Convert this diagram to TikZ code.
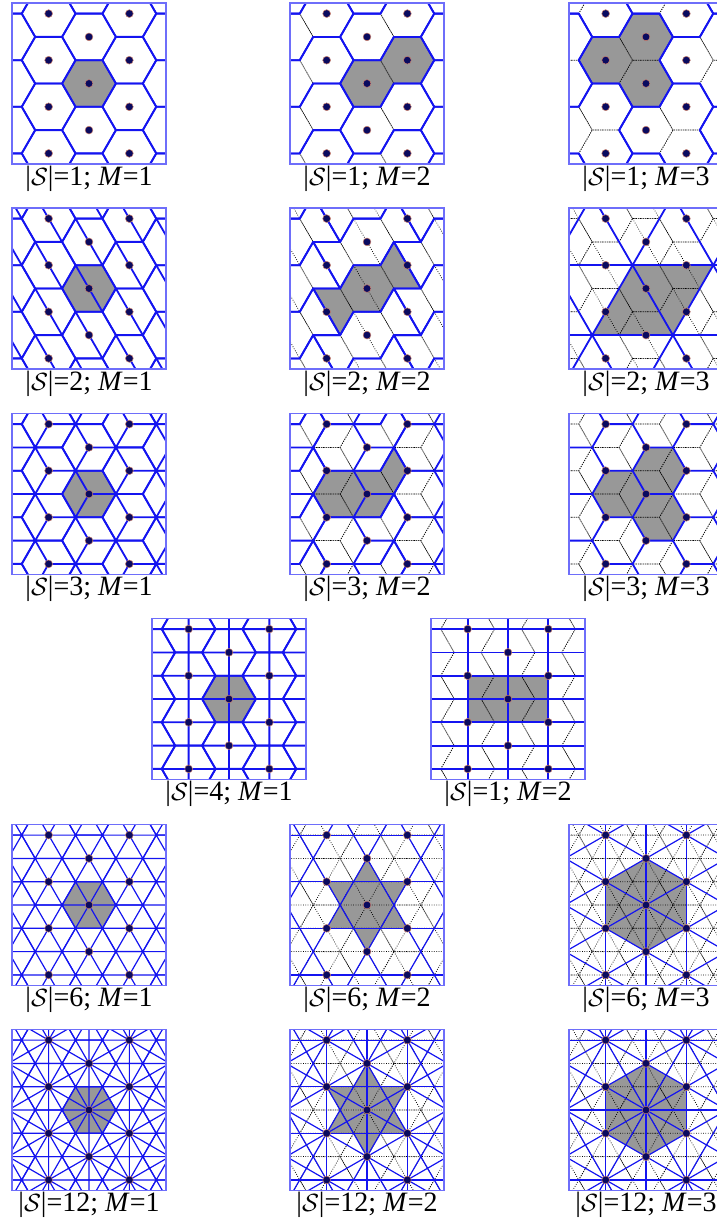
\documentclass[tikz,border=0pt]{standalone}
\usepackage{fontspec}
\setmainfont{Liberation Serif}
\usetikzlibrary{calc}

\definecolor{edgeblue}{RGB}{20,20,240}
\definecolor{frameblue}{RGB}{110,110,250}
\definecolor{cellgray}{RGB}{152,152,152}
\definecolor{sitenavy}{RGB}{10,10,95}
\definecolor{siterim}{RGB}{205,130,110}

\def\ha{0.866}
\def\hr{0.577}

\tikzset{
  coarse/.style={draw=edgeblue, line width=1.8pt, line join=round},
  thincoarse/.style={draw=edgeblue, line width=1.2pt, line join=round},
  fine/.style={draw=black, line width=0.75pt, dash pattern=on 0.75pt off 1.6pt},
  shade/.style={fill=cellgray},
  panelframe/.style={draw=frameblue, line width=1.5pt},
  sitedot/.style={fill=sitenavy, draw=siterim, line width=0.5pt},
  caption/.style={anchor=north, inner sep=0pt, font=\fontsize{28}{30}\selectfont}
}

% hexagonal cells (with their cuts) round every site
\newcommand{\cellgrid}[2]{%
  \foreach \i in {-2,...,2}{\foreach \j in {-4,...,4}{%
    \draw[#1,shift={(\ha*\i,0.5*\i+\j)}] (0:\hr)--(60:\hr)--(120:\hr)--(180:\hr)--(240:\hr)--(300:\hr)--cycle #2;}}}
% the three spokes of every site
\newcommand{\spokegrid}[1]{%
  \foreach \i in {-2,...,2}{\foreach \j in {-4,...,4}{%
    \draw[#1,shift={(\ha*\i,0.5*\i+\j)}] (0,0)--(0:\hr) (0,0)--(120:\hr) (0,0)--(240:\hr);}}}
% translated copies of one coarse cell
\newcommand{\tilecopies}[2]{%
  \foreach \p in {-4,...,4}{\foreach \q in {-2,...,2}{%
    \draw[coarse,shift={#1}] #2;}}}
% three families of parallel lines (0, 60, 120 degrees): style, spacing, offsets
\newcommand{\trilines}[5]{%
  \foreach \k in {-4,...,4}{%
    \draw[#1] (-3,{#3+#2*\k}) -- (3,{#3+#2*\k});
    \draw[#1] ({(#4+#2*\k)/0.866-1.5},-2.598) -- ({(#4+#2*\k)/0.866+1.5},2.598);
    \draw[#1] ({(#5+#2*\k)/0.866+1.5},-2.598) -- ({(#5+#2*\k)/0.866-1.5},2.598);}}
% lines joining neighbouring sites (90, 30, 150 degrees)
\newcommand{\siteline}[1]{%
  \foreach \k in {-3,...,3}{%
    \draw[#1] ({0.866*\k},-3) -- ({0.866*\k},3);
    \draw[#1] (-2.2,{-1.27+\k}) -- (2.2,{1.27+\k});
    \draw[#1] (-2.2,{1.27+\k}) -- (2.2,{-1.27+\k});}}
\newcommand{\sites}{%
  \foreach \i in {-2,...,2}{\foreach \j in {-4,...,4}{%
    \path[sitedot] (\ha*\i,0.5*\i+\j) circle (3.9pt);}}}
\newcommand{\symlab}[2]{\textbar$\mathcal{S}$\textbar=#1; \textit{M}=#2}

\newenvironment{cellpanel}[4]{%
  \begin{scope}[shift={(#1pt,-#2pt)},x=46.6pt,y=46.6pt]
  \def\panelname{#3}\def\paneltext{#4}%
  \begin{scope}
  \clip (-77pt,-80.5pt) rectangle (77pt,80.5pt);}{%
  \end{scope}
  \draw[panelframe] (-77pt,-80.5pt) rectangle (77pt,80.5pt);
  \node[caption] (\panelname) at (0,-82pt) {\paneltext};
  \end{scope}}

\begin{document}
\begin{tikzpicture}
\useasboundingbox (0,0) rectangle (717pt,-1219pt);

% |S|=1
\begin{cellpanel}{89}{83.5}{lblA1}{\symlab{1}{1}}
  \fill[shade] (0:\hr)--(60:\hr)--(120:\hr)--(180:\hr)--(240:\hr)--(300:\hr)--cycle;
  \cellgrid{coarse}{}
  \sites
\end{cellpanel}
\begin{cellpanel}{367}{83.5}{lblA2}{\symlab{1}{2}}
  \fill[shade] (-0.577,0)--(-0.289,-0.5)--(0.289,-0.5)--(0.577,0)--(1.155,0)--(1.443,0.5)--(1.155,1)--(0.577,1)--(0.289,0.5)--(-0.289,0.5)--cycle;
  \cellgrid{fine}{}
  \tilecopies{(1.732*\q,\p+\q)}{(-0.577,0)--(-0.289,-0.5)--(0.289,-0.5)--(0.577,0)--(1.155,0)--(1.443,0.5)--(1.155,1)--(0.577,1)--(0.289,0.5)--(-0.289,0.5)--cycle}
  \sites
\end{cellpanel}
\begin{cellpanel}{646}{83.5}{lblA3}{\symlab{1}{3}}
  \fill[shade] (0.577,0)--(0.289,0.5)--(0.577,1)--(0.289,1.5)--(-0.289,1.5)--(-0.577,1)--(-1.155,1)--(-1.443,0.5)--(-1.155,0)--(-0.577,0)--(-0.289,-0.5)--(0.289,-0.5)--cycle;
  \cellgrid{fine}{}
  \tilecopies{(1.732*\q+0.866*\p,1.5*\p)}{(0.577,0)--(0.289,0.5)--(0.577,1)--(0.289,1.5)--(-0.289,1.5)--(-0.577,1)--(-1.155,1)--(-1.443,0.5)--(-1.155,0)--(-0.577,0)--(-0.289,-0.5)--(0.289,-0.5)--cycle}
  \sites
\end{cellpanel}

% |S|=2
\begin{cellpanel}{89}{288.5}{lblB1}{\symlab{2}{1}}
  \fill[shade] (0:\hr)--(60:\hr)--(120:\hr)--(180:\hr)--(240:\hr)--(300:\hr)--cycle;
  \cellgrid{coarse}{(120:\hr)--(300:\hr)}
  \sites
\end{cellpanel}
\begin{cellpanel}{367}{288.5}{lblB2}{\symlab{2}{2}}
  \fill[shade] (-1.155,0)--(-0.577,0)--(-0.289,0.5)--(0.289,0.5)--(0.577,1)--(1.155,0)--(0.577,0)--(0.289,-0.5)--(-0.289,-0.5)--(-0.577,-1)--cycle;
  \cellgrid{fine}{(120:\hr)--(300:\hr)}
  \tilecopies{(1.732*\q,\p+\q)}{(-1.155,0)--(-0.577,0)--(-0.289,0.5)--(0.289,0.5)--(0.577,1)--(1.155,0)--(0.577,0)--(0.289,-0.5)--(-0.289,-0.5)--(-0.577,-1)--cycle}
  \sites
\end{cellpanel}
\begin{cellpanel}{646}{288.5}{lblB3}{\symlab{2}{3}}
  \fill[shade] (-1.155,-1)--(0.577,-1)--(1.443,0.5)--(-0.289,0.5)--cycle;
  \cellgrid{fine}{(120:\hr)--(300:\hr)}
  \trilines{coarse}{1.5}{0.5}{-0.5}{0}
  \sites
\end{cellpanel}

% |S|=3
\begin{cellpanel}{89}{494}{lblC1}{\symlab{3}{1}}
  \fill[shade] (0:\hr)--(60:\hr)--(120:\hr)--(180:\hr)--(240:\hr)--(300:\hr)--cycle;
  \cellgrid{coarse}{(0,0)--(0:\hr) (0,0)--(120:\hr) (0,0)--(240:\hr)}
  \sites
\end{cellpanel}
\begin{cellpanel}{367}{494}{lblC2}{\symlab{3}{2}}
  \fill[shade] (-1.155,0)--(-0.866,0.5)--(0.289,0.5)--(0.577,1)--(0.866,0.5)--(0.577,0)--(0.289,-0.5)--(-0.866,-0.5)--cycle;
  \cellgrid{fine}{(0,0)--(0:\hr) (0,0)--(120:\hr) (0,0)--(240:\hr)}
  \tilecopies{(1.732*\q,\p)}{(-1.155,0)--(-0.866,0.5)--(0.289,0.5)--(0.577,1)--(0.866,0.5)--(0.577,0)--(0.289,-0.5)--(-0.866,-0.5)--cycle}
  \tilecopies{(1.732*\q,\p)}{(0,0)--(0:\hr) (0,0)--(120:\hr) (0,0)--(240:\hr)}
  \sites
\end{cellpanel}
\begin{cellpanel}{646}{494}{lblC3}{\symlab{3}{3}}
  \fill[shade] (-1.155,0)--(-0.866,-0.5)--(-0.289,-0.5)--(0,-1)--(0.577,-1)--(0.866,-0.5)--(0.577,0)--(0.866,0.5)--(0.577,1)--(0,1)--(-0.289,0.5)--(-0.866,0.5)--cycle;
  \cellgrid{fine}{}
  \spokegrid{coarse}
  \sites
\end{cellpanel}

% |S|=4
\begin{cellpanel}{229}{699}{lblD1}{\symlab{4}{1}}
  \fill[shade] (0:\hr)--(60:\hr)--(120:\hr)--(180:\hr)--(240:\hr)--(300:\hr)--cycle;
  \cellgrid{coarse}{(0,0.5)--(0,-0.5) (180:\hr)--(0:\hr)}
  \sites
\end{cellpanel}
\begin{cellpanel}{508}{699}{lblD2}{\symlab{1}{2}}
  \fill[shade] (-0.866,-0.5) rectangle (0.866,0.5);
  \cellgrid{fine}{(0,0.5)--(0,-0.5) (180:\hr)--(0:\hr)}
  \foreach \k in {-2,...,2}{\draw[coarse] ({0.866*\k},-3) -- ({0.866*\k},3);}
  \foreach \k in {-4,...,4}{\draw[coarse] (-3,{0.5*\k}) -- (3,{0.5*\k});}
  \sites
\end{cellpanel}

% |S|=6
\begin{cellpanel}{89}{905}{lblE1}{\symlab{6}{1}}
  \fill[shade] (0:\hr)--(60:\hr)--(120:\hr)--(180:\hr)--(240:\hr)--(300:\hr)--cycle;
  \cellgrid{thincoarse}{(0:\hr)--(180:\hr) (60:\hr)--(240:\hr) (120:\hr)--(300:\hr)}
  \sites
\end{cellpanel}
\begin{cellpanel}{367}{905}{lblE2}{\symlab{6}{2}}
  \fill[shade] (0,1)--(0.289,0.5)--(0.866,0.5)--(0.577,0)--(0.866,-0.5)--(0.289,-0.5)--(0,-1)--(-0.289,-0.5)--(-0.866,-0.5)--(-0.577,0)--(-0.866,0.5)--(-0.289,0.5)--cycle;
  \cellgrid{fine}{(0:\hr)--(180:\hr) (60:\hr)--(240:\hr) (120:\hr)--(300:\hr)}
  \trilines{thincoarse}{1}{0.5}{0.5}{0.5}
  \sites
\end{cellpanel}
\begin{cellpanel}{646}{905}{lblE3}{\symlab{6}{3}}
  \fill[shade] (0,1)--(-0.866,0.5)--(-0.866,-0.5)--(0,-1)--(0.866,-0.5)--(0.866,0.5)--cycle;
  \cellgrid{fine}{(0:\hr)--(180:\hr) (60:\hr)--(240:\hr) (120:\hr)--(300:\hr)}
  \siteline{thincoarse}
  \sites
\end{cellpanel}

% |S|=12
\begin{cellpanel}{89}{1110}{lblF1}{\symlab{12}{1}}
  \fill[shade] (0:\hr)--(60:\hr)--(120:\hr)--(180:\hr)--(240:\hr)--(300:\hr)--cycle;
  \cellgrid{thincoarse}{(0:\hr)--(180:\hr) (60:\hr)--(240:\hr) (120:\hr)--(300:\hr) (30:0.5)--(210:0.5) (90:0.5)--(270:0.5) (150:0.5)--(330:0.5)}
  \sites
\end{cellpanel}
\begin{cellpanel}{367}{1110}{lblF2}{\symlab{12}{2}}
  \fill[shade] (0,1)--(0.289,0.5)--(0.866,0.5)--(0.577,0)--(0.866,-0.5)--(0.289,-0.5)--(0,-1)--(-0.289,-0.5)--(-0.866,-0.5)--(-0.577,0)--(-0.866,0.5)--(-0.289,0.5)--cycle;
  \cellgrid{fine}{(0:\hr)--(180:\hr) (60:\hr)--(240:\hr) (120:\hr)--(300:\hr)}
  \siteline{thincoarse}
  \trilines{thincoarse}{1}{0.5}{0.5}{0.5}
  \sites
\end{cellpanel}
\begin{cellpanel}{646}{1110}{lblF3}{\symlab{12}{3}}
  \fill[shade] (0,1)--(-0.866,0.5)--(-0.866,-0.5)--(0,-1)--(0.866,-0.5)--(0.866,0.5)--cycle;
  \cellgrid{fine}{(0:\hr)--(180:\hr) (60:\hr)--(240:\hr) (120:\hr)--(300:\hr)}
  \siteline{thincoarse}
  \trilines{thincoarse}{1.5}{0}{0}{0}
  \sites
\end{cellpanel}
\end{tikzpicture}
\end{document}
